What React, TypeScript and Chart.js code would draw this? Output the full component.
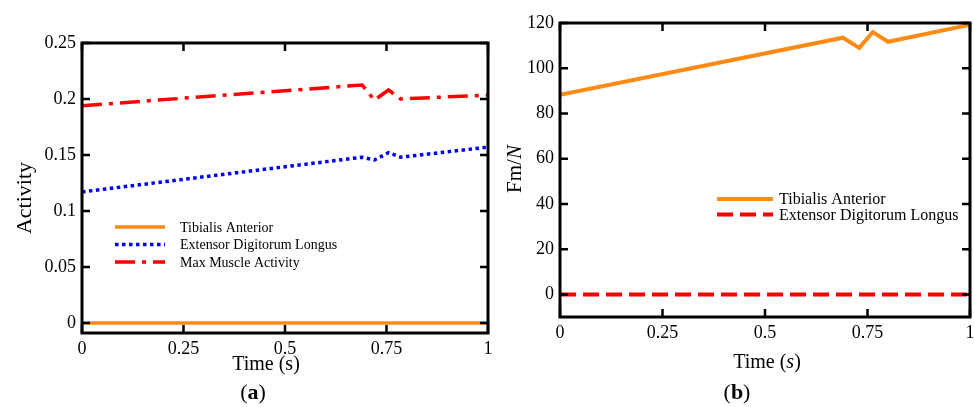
import React, { useEffect, useRef } from 'react';
import { Chart, registerables } from 'chart.js';

Chart.register(...registerables);

// ---------- data ----------
const timeA = [0, 0.69, 0.72, 0.755, 0.785, 1];
const maxActivity = [0.194, 0.2125, 0.199, 0.208, 0.2, 0.2035];
const edlActivity = [0.117, 0.148, 0.1455, 0.152, 0.148, 0.157];
const timeFlat = [0, 1];
const taActivity = [0, 0];

const timeB = [0, 0.69, 0.73, 0.763, 0.8, 1];
const taForce = [88.3, 113.5, 109, 116, 111.7, 119.2];
const edlForce = [0, 0];

const xTicks = [0, 0.25, 0.5, 0.75, 1];
const yTicksA = [0, 0.05, 0.1, 0.15, 0.2, 0.25];
const yTicksB = [0, 20, 40, 60, 80, 100, 120];

const labelsA = ['Tibialis Anterior', 'Extensor Digitorum Longus', 'Max Muscle Activity'];
const labelsB = ['Tibialis Anterior', 'Extensor Digitorum Longus'];

const SERIF = '"Liberation Serif", "DejaVu Serif", serif';
const ORANGE = '#ff8a14';
const BLUE = '#0000ff';
const RED = '#ff0000';

type Seg = { t: string; italic?: boolean; bold?: boolean };

function drawRich(ctx: CanvasRenderingContext2D, segs: Seg[], x: number, y: number, size: number, rotate = false) {
  const fontOf = (s: Seg) => `${s.italic ? 'italic ' : ''}${s.bold ? 'bold ' : ''}${size}px ${SERIF}`;
  let total = 0;
  const widths = segs.map((s) => {
    ctx.font = fontOf(s);
    const w = ctx.measureText(s.t).width;
    total += w;
    return w;
  });
  ctx.save();
  ctx.translate(x, y);
  if (rotate) ctx.rotate(-Math.PI / 2);
  ctx.fillStyle = '#000';
  ctx.textBaseline = 'middle';
  ctx.textAlign = 'left';
  let cx = -total / 2;
  segs.forEach((s, i) => {
    ctx.font = fontOf(s);
    ctx.fillText(s.t, cx, 0);
    cx += widths[i];
  });
  ctx.restore();
}

const decorPlugin = {
  id: 'decor',
  afterDraw(chart: any, _args: any, opts: any) {
    const { ctx, chartArea: a, scales } = chart;
    ctx.save();
    // inward ticks on all four sides
    ctx.strokeStyle = '#000';
    ctx.lineWidth = 2.5;
    ctx.setLineDash([]);
    const L = 8;
    ctx.beginPath();
    scales.x.ticks.forEach((t: any) => {
      const px = scales.x.getPixelForValue(t.value);
      ctx.moveTo(px, a.bottom);
      ctx.lineTo(px, a.bottom - L);
      ctx.moveTo(px, a.top);
      ctx.lineTo(px, a.top + L);
    });
    scales.y.ticks.forEach((t: any) => {
      const py = scales.y.getPixelForValue(t.value);
      ctx.moveTo(a.left, py);
      ctx.lineTo(a.left + L, py);
      ctx.moveTo(a.right, py);
      ctx.lineTo(a.right - L, py);
    });
    ctx.stroke();
    // frame
    ctx.lineWidth = 3;
    ctx.strokeRect(a.left, a.top, a.right - a.left, a.bottom - a.top);

    // legend
    const lg = opts.legend;
    chart.data.datasets.forEach((ds: any, i: number) => {
      const y = a.top + lg.y + i * lg.rowH;
      ctx.beginPath();
      ctx.strokeStyle = ds.borderColor;
      ctx.lineWidth = ds.borderWidth;
      ctx.setLineDash(ds.borderDash || []);
      ctx.lineCap = 'butt';
      ctx.moveTo(a.left + lg.x, y);
      ctx.lineTo(a.left + lg.x + lg.lineLen, y);
      ctx.stroke();
      ctx.setLineDash([]);
      ctx.fillStyle = '#000';
      ctx.font = `${lg.size}px ${SERIF}`;
      ctx.textBaseline = 'middle';
      ctx.textAlign = 'left';
      ctx.fillText(ds.label, a.left + lg.textX, y + 1);
    });

    // titles
    const xt = opts.xTitle;
    drawRich(ctx, xt.segs, xt.x, xt.y, xt.size);
    const yt = opts.yTitle;
    drawRich(ctx, yt.segs, yt.x, yt.y, yt.size, true);
    const pl = opts.panel;
    drawRich(ctx, pl.segs, pl.x, pl.y, pl.size);
    ctx.restore();
  },
};

function makeConfig(p: any) {
  return {
    type: 'line',
    data: { datasets: p.datasets },
    plugins: [decorPlugin],
    options: {
      animation: false,
      responsive: false,
      layout: { padding: p.padding },
      elements: { point: { radius: 0 }, line: { tension: 0 } },
      plugins: {
        legend: { display: false },
        tooltip: { enabled: false },
        decor: p.decor,
      },
      scales: {
        x: {
          type: 'linear',
          min: 0,
          max: 1,
          grid: { display: false, drawTicks: false },
          border: { display: false },
          afterBuildTicks: (s: any) => {
            s.ticks = xTicks.map((v) => ({ value: v }));
          },
          afterFit: (s: any) => {
            s.height = p.xHeight;
            s.paddingLeft = 0;
            s.paddingRight = 0;
          },
          ticks: {
            padding: 5,
            maxRotation: 0,
            autoSkip: false,
            color: '#000',
            font: { family: SERIF, size: 18 },
            callback: (v: any) => String(v),
          },
        },
        y: {
          type: 'linear',
          min: p.yMin,
          max: p.yMax,
          grid: { display: false, drawTicks: false },
          border: { display: false },
          afterBuildTicks: (s: any) => {
            s.ticks = p.yTicks.map((v: number) => ({ value: v }));
          },
          afterFit: (s: any) => {
            s.width = p.yWidth;
            s.paddingTop = 0;
            s.paddingBottom = 0;
          },
          ticks: {
            padding: 6,
            autoSkip: false,
            color: '#000',
            font: { family: SERIF, size: 18 },
            callback: (v: any) => String(v),
          },
        },
      },
    },
  };
}

function ChartCanvas({ config, width, left }: { config: any; width: number; left: number }) {
  const ref = useRef<HTMLCanvasElement | null>(null);
  useEffect(() => {
    if (!ref.current) return;
    const chart = new Chart(ref.current, config);
    return () => chart.destroy();
  }, [config]);
  return (
    <div style={{ position: 'absolute', left, top: 0, width, height: 407 }}>
      <canvas ref={ref} width={width} height={407} style={{ display: 'block', width, height: 407 }} />
    </div>
  );
}

const configA = makeConfig({
  padding: { left: 0, top: 43, right: 7, bottom: 0 },
  yWidth: 82,
  xHeight: 74,
  yMin: -0.009,
  yMax: 0.25,
  yTicks: yTicksA,
  datasets: [
    {
      label: labelsA[0],
      data: timeFlat.map((t, i) => ({ x: t, y: taActivity[i] })),
      borderColor: ORANGE,
      borderWidth: 3.5,
    },
    {
      label: labelsA[1],
      data: timeA.map((t, i) => ({ x: t, y: edlActivity[i] })),
      borderColor: BLUE,
      borderWidth: 3.5,
      borderDash: [3.5, 3.5],
    },
    {
      label: labelsA[2],
      data: timeA.map((t, i) => ({ x: t, y: maxActivity[i] })),
      borderColor: RED,
      borderWidth: 3.5,
      borderDash: [20, 7, 4, 7],
    },
  ],
  decor: {
    legend: { x: 33, y: 184, rowH: 17.5, lineLen: 50, textX: 98, size: 14 },
    xTitle: { segs: [{ t: 'Time (s)' }], x: 266, y: 365, size: 20 },
    yTitle: { segs: [{ t: 'Activity' }], x: 25, y: 198, size: 22 },
    panel: { segs: [{ t: '(' }, { t: 'a', bold: true }, { t: ')' }], x: 253, y: 393, size: 22 },
  },
});

const configB = makeConfig({
  padding: { left: 0, top: 23, right: 4, bottom: 0 },
  yWidth: 70,
  xHeight: 90,
  yMin: -10,
  yMax: 120,
  yTicks: yTicksB,
  datasets: [
    {
      label: labelsB[0],
      data: timeB.map((t, i) => ({ x: t, y: taForce[i] })),
      borderColor: ORANGE,
      borderWidth: 4,
    },
    {
      label: labelsB[1],
      data: timeFlat.map((t, i) => ({ x: t, y: edlForce[i] })),
      borderColor: RED,
      borderWidth: 4,
      borderDash: [16, 7],
    },
  ],
  decor: {
    legend: { x: 157, y: 176, rowH: 15.5, lineLen: 56, textX: 219, size: 16 },
    xTitle: { segs: [{ t: 'Time (' }, { t: 's', italic: true }, { t: ')' }], x: 277, y: 363, size: 20 },
    yTitle: { segs: [{ t: 'Fm/' }, { t: 'N', italic: true }], x: 25, y: 169, size: 21 },
    panel: { segs: [{ t: '(' }, { t: 'b', bold: true }, { t: ')' }], x: 247, y: 393, size: 22 },
  },
});

export default function App() {
  return (
    <div style={{ position: 'fixed', left: 0, top: 0, width: 974, height: 407, overflow: 'hidden', background: '#fff' }}>
      <ChartCanvas config={configA} width={495} left={0} />
      <ChartCanvas config={configB} width={484} left={490} />
    </div>
  );
}
